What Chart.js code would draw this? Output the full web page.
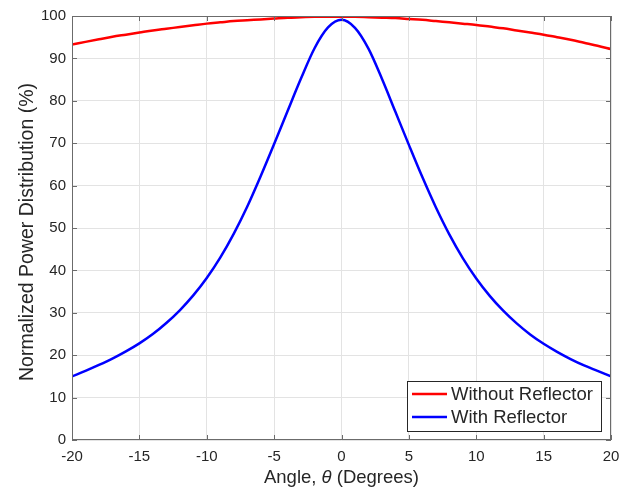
<!DOCTYPE html>
<html lang="en">
<head>
  <meta charset="UTF-8">
  <title>Normalized Power Distribution</title>
  <script src="https://cdn.jsdelivr.net/npm/chart.js"></script>
  <style>
    body { margin: 0; background: #ffffff; }
    canvas { display: block; }
  </style>
</head>
<body>
  <canvas id="chart" width="631" height="490"></canvas>

  <script>
    // Angle in degrees
    const angles = [-20, -19, -18, -17, -16, -15, -14, -13, -12, -11, -10, -9, -8, -7, -6, -5, -4, -3, -2, -1,
      0, 1, 2, 3, 4, 5, 6, 7, 8, 9, 10, 11, 12, 13, 14, 15, 16, 17, 18, 19, 20];

    // Values
    const withoutReflector = [93.3, 93.9, 94.5, 95.1, 95.6, 96.1, 96.6, 97.0, 97.4, 97.8, 98.2, 98.5, 98.8, 99.0, 99.2, 99.4, 99.6, 99.7, 99.8, 99.8,
      99.8, 99.8, 99.7, 99.6, 99.5, 99.3, 99.1, 98.8, 98.5, 98.2, 97.9, 97.5, 97.1, 96.6, 96.1, 95.6, 95.0, 94.4, 93.7, 93.0, 92.2];
    const withReflector = [15.0, 16.3, 17.7, 19.2, 20.9, 22.8, 25.0, 27.6, 30.6, 34.1, 38.2, 43.0, 48.6, 55.0, 62.2, 69.8, 77.6, 85.3, 92.4, 97.3,
      99.1, 97.2, 92.3, 85.2, 77.4, 69.6, 62.0, 54.9, 48.5, 42.9, 38.1, 34.0, 30.5, 27.5, 24.9, 22.7, 20.8, 19.1, 17.6, 16.3, 15.0];

    const xTicks = [-20, -15, -10, -5, 0, 5, 10, 15, 20];
    const yTicks = [0, 10, 20, 30, 40, 50, 60, 70, 80, 90, 100];

    const FONT = 'Liberation Sans, Arial, sans-serif';
    const INK = '#262626';
    const TITLE_SIZE = 18.5;

    const toPoints = (ys) => angles.map((a, i) => ({ x: a, y: ys[i] }));

    // box, inward ticks, axis titles and legend, MATLAB style
    const decorations = {
      id: 'decorations',
      afterDatasetsDraw(chart) {
        const { ctx, chartArea: a, scales } = chart;
        ctx.save();
        ctx.strokeStyle = '#6b6b6b';
        ctx.lineWidth = 1;
        ctx.strokeRect(a.left + 0.5, a.top + 0.5, a.right - a.left - 1, a.bottom - a.top - 1);
        ctx.beginPath();
        xTicks.forEach(t => {
          const x = Math.round(scales.x.getPixelForValue(t)) + 0.5;
          ctx.moveTo(x, a.bottom); ctx.lineTo(x, a.bottom - 5);
          ctx.moveTo(x, a.top); ctx.lineTo(x, a.top + 5);
        });
        yTicks.forEach(t => {
          const y = Math.round(scales.y.getPixelForValue(t)) + 0.5;
          ctx.moveTo(a.left, y); ctx.lineTo(a.left + 5, y);
          ctx.moveTo(a.right, y); ctx.lineTo(a.right - 5, y);
        });
        ctx.stroke();

        // legend
        const lx = 407, ly = 381, lw = 194, lh = 50;
        ctx.fillStyle = '#ffffff';
        ctx.fillRect(lx, ly, lw, lh);
        ctx.strokeStyle = INK;
        ctx.strokeRect(lx + 0.5, ly + 0.5, lw, lh);
        ctx.font = TITLE_SIZE + 'px ' + FONT;
        ctx.textBaseline = 'middle';
        ctx.textAlign = 'left';
        chart.data.datasets.forEach((ds, i) => {
          const y = ly + 13 + i * 23;
          ctx.strokeStyle = ds.borderColor;
          ctx.lineWidth = 2.5;
          ctx.beginPath();
          ctx.moveTo(lx + 5, y); ctx.lineTo(lx + 40, y);
          ctx.stroke();
          ctx.fillStyle = INK;
          ctx.fillText(ds.label, lx + 44, y + 1);
        });

        // axis titles
        ctx.fillStyle = INK;
        const parts = [['Angle, ', 'normal'], ['\u03b8', 'italic'], [' (Degrees)', 'normal']];
        let total = 0;
        parts.forEach(p => { ctx.font = p[1] + ' ' + TITLE_SIZE + 'px ' + FONT; total += ctx.measureText(p[0]).width; });
        let x = (a.left + a.right) / 2 - total / 2;
        ctx.textAlign = 'left';
        parts.forEach(p => {
          ctx.font = p[1] + ' ' + TITLE_SIZE + 'px ' + FONT;
          ctx.fillText(p[0], x, 478);
          x += ctx.measureText(p[0]).width;
        });

        ctx.translate(28, 232);
        ctx.rotate(-Math.PI / 2);
        ctx.textAlign = 'center';
        ctx.font = '19.5px ' + FONT;
        ctx.fillText('Normalized Power Distribution (%)', 0, 0);
        ctx.restore();
      }
    };

    new Chart(document.getElementById('chart'), {
      type: 'line',
      data: {
        datasets: [
          {
            label: 'Without Reflector',
            data: toPoints(withoutReflector),
            borderColor: '#ff0000',
            borderWidth: 2.5,
            pointRadius: 0,
            cubicInterpolationMode: 'monotone'
          },
          {
            label: 'With Reflector',
            data: toPoints(withReflector),
            borderColor: '#0000ff',
            borderWidth: 2.5,
            pointRadius: 0,
            cubicInterpolationMode: 'monotone'
          }
        ]
      },
      options: {
        responsive: false,
        animation: false,
        layout: { padding: { top: 16, right: 20, left: 0, bottom: 0 } },
        plugins: { legend: { display: false }, tooltip: { enabled: false } },
        scales: {
          x: {
            type: 'linear',
            min: -20, max: 20,
            afterBuildTicks: (s) => { s.ticks = xTicks.map(v => ({ value: v })); },
            afterFit: (s) => { s.height = 50; },
            grid: { color: '#e3e3e3', drawTicks: false },
            border: { display: false },
            ticks: { color: INK, font: { family: FONT, size: 15 }, padding: 8, maxRotation: 0 }
          },
          y: {
            min: 0, max: 100,
            afterBuildTicks: (s) => { s.ticks = yTicks.map(v => ({ value: v })); },
            afterFit: (s) => { s.width = 72; },
            grid: { color: '#e3e3e3', drawTicks: false },
            border: { display: false },
            ticks: { color: INK, font: { family: FONT, size: 15 }, padding: 6 }
          }
        }
      },
      plugins: [decorations]
    });
  </script>
</body>
</html>
